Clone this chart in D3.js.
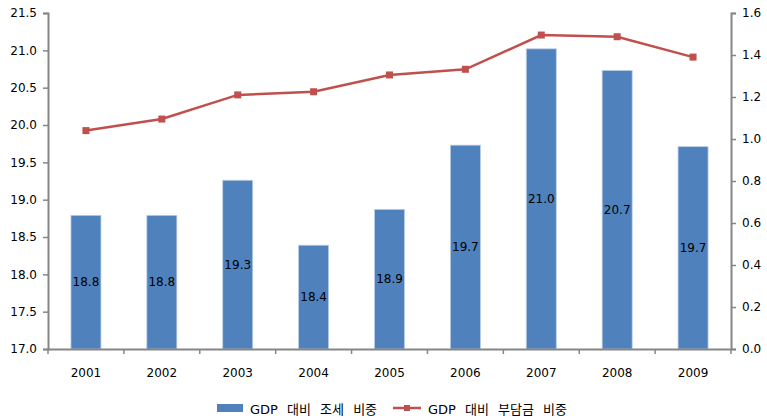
<!DOCTYPE html>
<html>
<head>
<meta charset="utf-8">
<script src="https://cdn.jsdelivr.net/npm/d3@7"></script>
<style>
  body { margin: 0; background: #fff; }
  text { font-family: "DejaVu Sans", "Noto Sans CJK KR", sans-serif; }
</style>
</head>
<body>
<div id="chart"></div>
<script>
var years = ["2001", "2002", "2003", "2004", "2005", "2006", "2007", "2008", "2009"];
var taxShare = [18.79, 18.79, 19.26, 18.39, 18.87, 19.73, 21.02, 20.73, 19.71];
var chargeShare = [1.04, 1.095, 1.21, 1.225, 1.305, 1.332, 1.495, 1.487, 1.39];
var leftTicks = [17.0, 17.5, 18.0, 18.5, 19.0, 19.5, 20.0, 20.5, 21.0, 21.5];
var rightTicks = [0.0, 0.2, 0.4, 0.6, 0.8, 1.0, 1.2, 1.4, 1.6];
var legendNames = ["GDP 대비 조세 비중", "GDP 대비 부담금 비중"];

var width = 767, height = 420;
var plotLeft = 48, plotRight = 731, plotTop = 13, plotBottom = 349;

var svg = d3.select("#chart").append("svg")
    .attr("width", width)
    .attr("height", height);

var x = d3.scaleBand().domain(years).range([plotLeft, plotRight]);
var yL = d3.scaleLinear().domain([17, 21.5]).range([plotBottom, plotTop]);
var yR = d3.scaleLinear().domain([0, 1.6]).range([plotBottom, plotTop]);

// bars
var barW = 30;
svg.selectAll("rect.bar")
    .data(taxShare)
    .enter()
    .append("rect")
    .attr("class", "bar")
    .attr("x", function (d, i) { return x(years[i]) + x.bandwidth() / 2 - barW / 2; })
    .attr("y", function (d) { return yL(d); })
    .attr("width", barW)
    .attr("height", function (d) { return plotBottom - yL(d); })
    .style("fill", "#4F81BD")
    .style("stroke", "#B9CDE5")
    .style("stroke-width", 0.8);

// bar labels
svg.selectAll("text.barlab")
    .data(taxShare)
    .enter()
    .append("text")
    .attr("class", "barlab")
    .attr("x", function (d, i) { return x(years[i]) + x.bandwidth() / 2; })
    .attr("y", function (d) { return (yL(d) + plotBottom) / 2 + 4; })
    .attr("text-anchor", "middle")
    .style("font-size", "12px")
    .style("fill", "#000")
    .text(function (d) { return d.toFixed(1); });

// line
var line = d3.line()
    .x(function (d, i) { return x(years[i]) + x.bandwidth() / 2; })
    .y(function (d) { return yR(d); });

svg.append("path")
    .datum(chargeShare)
    .attr("d", line)
    .style("fill", "none")
    .style("stroke", "#C0504D")
    .style("stroke-width", 2.5);

svg.selectAll("rect.mark")
    .data(chargeShare)
    .enter()
    .append("rect")
    .attr("class", "mark")
    .attr("x", function (d, i) { return x(years[i]) + x.bandwidth() / 2 - 3.5; })
    .attr("y", function (d) { return yR(d) - 3.5; })
    .attr("width", 7)
    .attr("height", 7)
    .style("fill", "#C0504D");

// axes
var axisColor = "#868686";

var axL = svg.append("g")
    .attr("transform", "translate(" + plotLeft + ",0)")
    .call(d3.axisLeft(yL).tickValues(leftTicks).tickSize(5).tickFormat(d3.format(".1f")));
var axR = svg.append("g")
    .attr("transform", "translate(" + plotRight + ",0)")
    .call(d3.axisRight(yR).tickValues(rightTicks).tickSize(5).tickFormat(d3.format(".1f")));
var axX = svg.append("g")
    .attr("transform", "translate(0," + plotBottom + ")")
    .call(d3.axisBottom(x).tickSize(0).tickPadding(19));

// category boundary ticks
svg.selectAll("line.cat")
    .data(d3.range(years.length + 1))
    .enter()
    .append("line")
    .attr("x1", function (d) { return plotLeft + d * x.bandwidth(); })
    .attr("x2", function (d) { return plotLeft + d * x.bandwidth(); })
    .attr("y1", plotBottom)
    .attr("y2", plotBottom + 5)
    .style("stroke", axisColor)
    .style("stroke-width", 1.5);

[axL, axR, axX].forEach(function (a) {
    a.select(".domain").style("stroke", axisColor).style("stroke-width", 2);
    a.selectAll(".tick line").style("stroke", axisColor).style("stroke-width", 1.5);
    a.selectAll("text")
        .style("font-family", "'DejaVu Sans', sans-serif")
        .style("font-size", "12px")
        .style("fill", "#000");
});
axL.selectAll("text").attr("x", -11);
axR.selectAll("text").attr("x", 11);

// legend
var lg = svg.append("g");
lg.append("rect")
    .attr("x", 217).attr("y", 404)
    .attr("width", 26).attr("height", 8)
    .style("fill", "#4F81BD");
lg.append("text")
    .attr("x", 250).attr("y", 414)
    .style("font-size", "13px")
    .style("word-spacing", "5px")
    .style("font-family", "'DejaVu Sans', 'Noto Sans CJK KR', sans-serif")
    .text(legendNames[0]);
lg.append("line")
    .attr("x1", 393).attr("x2", 421)
    .attr("y1", 408).attr("y2", 408)
    .style("stroke", "#C0504D").style("stroke-width", 2.5);
lg.append("rect")
    .attr("x", 404).attr("y", 405)
    .attr("width", 6).attr("height", 6)
    .style("fill", "#C0504D");
lg.append("text")
    .attr("x", 428).attr("y", 414)
    .style("font-size", "13px")
    .style("word-spacing", "5px")
    .style("font-family", "'DejaVu Sans', 'Noto Sans CJK KR', sans-serif")
    .text(legendNames[1]);
</script>
</body>
</html>
